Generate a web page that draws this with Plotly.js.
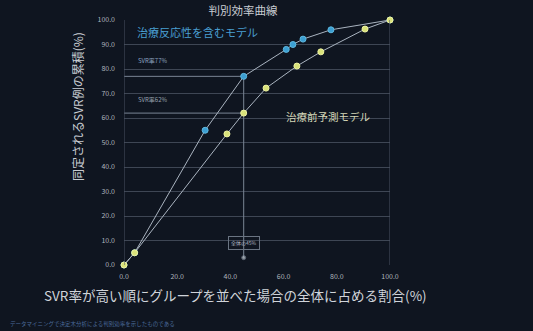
<!DOCTYPE html>
<html><head><meta charset="utf-8">
<script src="https://cdn.plot.ly/plotly-3.0.1.min.js"></script>
<style>html,body{margin:0;padding:0;background:#0f1520;}#c{width:533px;height:331px;}</style>
</head><body><div id="c"></div>
<script>
const xTicks = [0, 20, 40, 60, 80, 100];
const xTickLabels = ["0.0", "20.0", "40.0", "60.0", "80.0", "100.0"];
const yTicks = [0, 10, 20, 30, 40, 50, 60, 70, 80, 90, 100];
const yTickLabels = ["0.0","10.0","20.0","30.0","40.0","50.0","60.0","70.0","80.0","90.0","100.0"];

// 治療反応性を含むモデル
const respX = [0, 4, 30.5, 45, 61, 63.5, 67.3, 77.8, 100];
const respY = [0, 5, 55, 77, 88, 90, 92.2, 96, 100];
// 治療前予測モデル
const preX = [0, 4, 38.7, 45, 53.4, 65, 74, 90.6, 100];
const preY = [0, 5, 53.5, 62, 72.2, 81.2, 87, 96.3, 100];

const cutX = 45;
const svrHigh = 77;
const svrLow = 62;

const bg = '#0f1520';
const blue = '#3c9fd2';
const yellow = '#d9e27a';
const lineCol = '#aab4c0';
const font = '"Noto Sans CJK JP", "Noto Sans", sans-serif';

const W = 533, H = 331, L = 124, R = 143, T = 20, B = 66;
const px = v => (v - L) / (W - L - R);
const py = v => (H - B - v) / (H - T - B);

const traces = [
  {x:[-1, cutX], y:[svrHigh, svrHigh], mode:'lines+markers', line:{color:'#7a8594', width:1}, marker:{size:[4,0], color:'#c0c8d0'}, cliponaxis:false, hoverinfo:'skip', showlegend:false},
  {x:[-1, cutX], y:[svrLow, svrLow], mode:'lines+markers', line:{color:'#7a8594', width:1}, marker:{size:[4,0], color:'#c0c8d0'}, cliponaxis:false, hoverinfo:'skip', showlegend:false},
  {x:[cutX, cutX], y:[3, svrHigh], mode:'lines+markers', line:{color:'#7a8594', width:1}, marker:{size:[4,0], color:'#c0c8d0'}, cliponaxis:false, hoverinfo:'skip', showlegend:false},
  {x:respX, y:respY, mode:'lines+markers', name:'治療反応性を含むモデル', line:{color:lineCol, width:1}, marker:{size:6, color:blue, line:{color:'#5fb8e0', width:1}}, cliponaxis:false, showlegend:false},
  {x:preX, y:preY, mode:'lines+markers', name:'治療前予測モデル', line:{color:lineCol, width:1}, marker:{size:6, color:yellow, line:{color:'#eef3a0', width:1}}, cliponaxis:false, showlegend:false}
];

const layout = {
  width:W, height:H,
  paper_bgcolor:bg, plot_bgcolor:bg,
  margin:{l:L, r:R, t:T, b:B},
  font:{family:font, color:'#c8ccd2', size:7},
  title:{text:'判別効率曲線', x:px(243), xref:'paper', xanchor:'center', y:1-11/H, yref:'container', yanchor:'middle', font:{size:11.5, color:'#c8ccd2', family:font}},
  xaxis:{range:[0,100], tickvals:xTicks, ticktext:xTickLabels, showgrid:false, zeroline:false, showline:false,
    ticks:'', ticklabelstandoff:6, tickfont:{size:7, color:'#aeb4bc'}, title:{text:''}},
  yaxis:{range:[0,100], tickvals:yTicks, ticktext:yTickLabels, showgrid:true, gridcolor:'#3e4654', gridwidth:1, zeroline:false, showline:false,
    ticks:'', ticklabelstandoff:8, tickfont:{size:7, color:'#aeb4bc'}, title:{text:''}},
  shapes:[
    {type:'line', xref:'x', yref:'y', x0:0, x1:0, y0:0, y1:100, line:{color:'#4a5362', width:1}},
    {type:'line', xref:'x', yref:'y', x0:100, x1:100, y0:0, y1:100, line:{color:'#4a5362', width:1}}
  ],
  annotations:[
    {x:4, y:95, xref:'x', yref:'y', text:'治療反応性を含むモデル', showarrow:false, xanchor:'left', yanchor:'middle', font:{size:11, color:'#4a9fd2'}},
    {x:60, y:60.5, xref:'x', yref:'y', text:'治療前予測モデル', showarrow:false, xanchor:'left', yanchor:'middle', font:{size:10.5, color:'#d6d8b8'}},
    {x:4.5, y:83.5, xref:'x', yref:'y', text:'SVR率77%', showarrow:false, xanchor:'left', yanchor:'middle', font:{size:6, color:'#8fa6c0'}},
    {x:4.5, y:67.5, xref:'x', yref:'y', text:'SVR率62%', showarrow:false, xanchor:'left', yanchor:'middle', font:{size:6, color:'#9aa4b0'}},
    {x:cutX, y:9, xref:'x', yref:'y', text:'全体の45%', showarrow:false, xanchor:'center', yanchor:'middle', font:{size:5, color:'#b0b8c2'}, bordercolor:'#6a7482', borderwidth:1, borderpad:2},
    {x:px(235), y:py(295), xref:'paper', yref:'paper', text:'SVR率が高い順にグループを並べた場合の全体に占める割合(%)', showarrow:false, xanchor:'center', yanchor:'middle', font:{size:13.5, color:'#d0d4da'}},
    {x:px(77), y:py(107), xref:'paper', yref:'paper', text:'同定されるSVR例の累積(%)', textangle:-90, showarrow:false, xanchor:'center', yanchor:'middle', font:{size:12, color:'#c8ccd2'}},
    {x:px(8), y:py(324), xref:'paper', yref:'paper', text:'データマイニングで決定木分析による判別効率を示したものである', showarrow:false, xanchor:'left', yanchor:'middle', font:{size:5.5, color:'#4a6a9a'}}
  ]
};

Plotly.newPlot('c', traces, layout, {displayModeBar:false, staticPlot:true});
</script></body></html>
